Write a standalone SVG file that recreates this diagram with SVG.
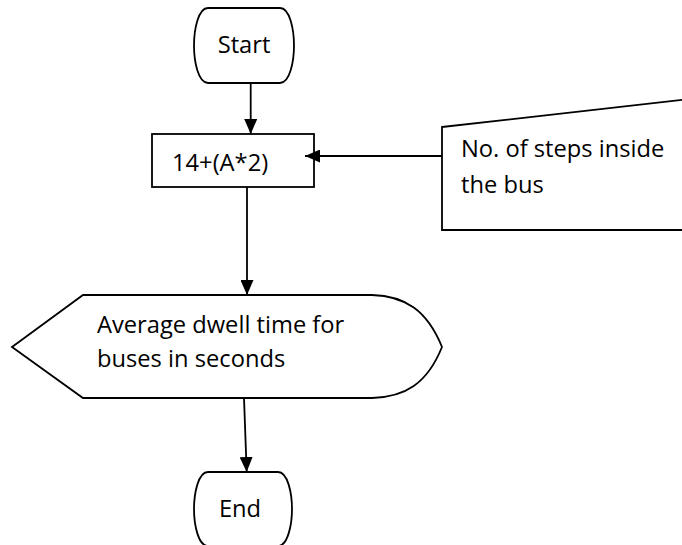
<svg xmlns="http://www.w3.org/2000/svg" width="682" height="545" viewBox="0 0 682 545">
  <style>
    .shape { fill: #ffffff; stroke: #000000; stroke-width: 1.8; }
    .conn { fill: none; stroke: #000000; stroke-width: 1.8; }
    .lbl { font-family: "Open Sans", "Noto Sans", "Liberation Sans", sans-serif; font-size: 23.7px; fill: #000000; }
  </style>
  <defs>
    <marker id="arrow" markerWidth="15" markerHeight="13" refX="15" refY="6.5" orient="auto" markerUnits="userSpaceOnUse">
      <path d="M0,0 L15,6.5 L0,13 Z" fill="#000000"/>
    </marker>
  </defs>

  <g id="start">
    <path class="shape" d="M208,8 H280 C290,8 294,30 294,45.5 C294,61 290,83 280,83 H208 C198,83 194,61 194,45.5 C194,30 198,8 208,8 Z"/>
    <text class="lbl" x="244" y="53" text-anchor="middle">Start</text>
  </g>

  <g id="process">
    <rect class="shape" x="152" y="134" width="162" height="53"/>
    <text class="lbl" x="172" y="171">14+(A*2)</text>
  </g>

  <g id="input">
    <path class="shape" d="M442,127 L690,99 L690,230 L442,230 Z"/>
    <text class="lbl" x="461" y="157">No. of steps inside</text>
    <text class="lbl" x="461" y="193">the bus</text>
  </g>

  <g id="display">
    <path class="shape" d="M83,295 H372 C405,296 427,310 442,347 C427,384 405,397 372,398 H83 L12,347 Z"/>
    <text class="lbl" x="97" y="333">Average dwell time for</text>
    <text class="lbl" x="97" y="367">buses in seconds</text>
  </g>

  <g id="end">
    <path class="shape" d="M208,472 H278 C288,472 292,494 292,509 C292,524 288,546 278,546 H208 C198,546 194,524 194,509 C194,494 198,472 208,472 Z"/>
    <text class="lbl" x="240" y="517" text-anchor="middle">End</text>
  </g>

  <g id="connectors">
    <line class="conn" x1="250.7" y1="83" x2="250.7" y2="134" marker-end="url(#arrow)"/>
    <line class="conn" x1="442" y1="156" x2="305" y2="156" marker-end="url(#arrow)"/>
    <line class="conn" x1="247" y1="187" x2="247" y2="295" marker-end="url(#arrow)"/>
    <line class="conn" x1="244" y1="398" x2="246.7" y2="472" marker-end="url(#arrow)"/>
  </g>
</svg>
